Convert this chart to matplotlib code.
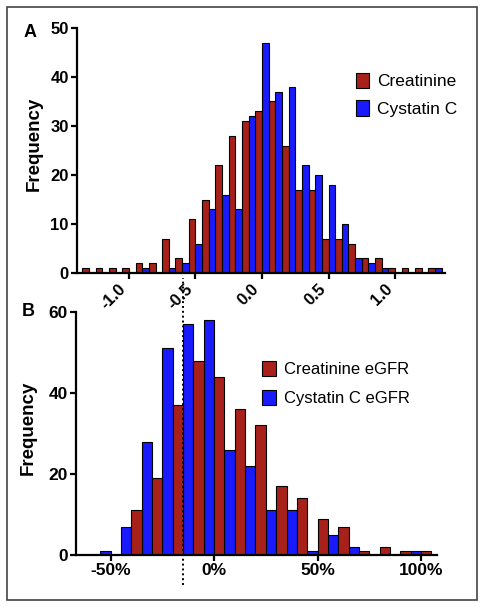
import matplotlib.pyplot as plt
from matplotlib.patches import Rectangle

plt.rcParams['font.family'] = ['Liberation Sans', 'DejaVu Sans']

# Panel A: difference bins (width 0.1)
bins_a = [-1.3, -1.2, -1.1, -1.0, -0.9, -0.8, -0.7, -0.6, -0.5, -0.4, -0.3, -0.2, -0.1,
          0.0, 0.1, 0.2, 0.3, 0.4, 0.5, 0.6, 0.7, 0.8, 0.9, 1.0, 1.1, 1.2, 1.3]
creat_a = [1, 1, 1, 1, 2, 2, 7, 3, 11, 15, 22, 28, 31,
           33, 35, 26, 17, 17, 7, 7, 6, 3, 3, 1, 1, 1, 1]
cyst_a = [0, 0, 0, 0, 1, 0, 1, 2, 6, 13, 16, 13, 32,
          47, 37, 38, 22, 20, 18, 10, 3, 2, 1, 0, 0, 0, 1]
xticks_a = [-1.0, -0.5, 0.0, 0.5, 1.0]
xlabels_a = ["-1.0", "-0.5", "0.0", "0.5", "1.0"]

# Panel B: percent difference bins (width 10%)
bins_b = [-50, -40, -30, -20, -10, 0, 10, 20, 30, 40, 50, 60, 70, 80, 90, 100]
creat_b = [0, 11, 19, 37, 48, 44, 36, 32, 17, 14, 9, 7, 1, 2, 1, 1]
cyst_b = [1, 7, 28, 51, 57, 58, 26, 22, 11, 11, 1, 5, 2, 0, 0, 1]
xticks_b = [-50, 0, 50, 100]
xlabels_b = ["-50%", "0%", "50%", "100%"]
cut_b = -15

red = '#A8201A'
blue = '#1A1AFF'

fig = plt.figure(figsize=(4.83, 6.07), dpi=100)
ax1 = fig.add_axes([0.1594, 0.5502, 0.7619, 0.4037])
ax2 = fig.add_axes([0.1573, 0.0857, 0.7475, 0.4003])

w = 0.05
ax1.bar([b - w / 2 for b in bins_a], creat_a, width=w, color=red, edgecolor='black',
        linewidth=0.8, label='Creatinine')
ax1.bar([b + w / 2 for b in bins_a], cyst_a, width=w, color=blue, edgecolor='black',
        linewidth=0.8, label='Cystatin C')
ax1.set_xlim(-1.39, 1.375)
ax1.set_ylim(0, 50)
ax1.set_yticks([0, 10, 20, 30, 40, 50])
ax1.set_xticks(xticks_a)
ax1.set_xticklabels(xlabels_a, rotation=45, ha='right', va='top')

w = 5
ax2.bar([b - w / 2 for b in bins_b], cyst_b, width=w, color=blue, edgecolor='black',
        linewidth=0.8, label='Cystatin C eGFR', zorder=2)
ax2.bar([b + w / 2 for b in bins_b], creat_b, width=w, color=red, edgecolor='black',
        linewidth=0.8, label='Creatinine eGFR', zorder=2)
ax2.set_xlim(-66.7, 107.7)
ax2.set_ylim(0, 60)
ax2.set_yticks([0, 20, 40, 60])
ax2.set_xticks(xticks_b)
ax2.set_xticklabels(xlabels_b)
# dotted cut-off line, runs up through panel A too
ax2.axvline(cut_b, ymin=-0.1235, ymax=1.14, color='black', lw=1.4,
            linestyle=(0, (1, 1.5)), clip_on=False, zorder=5)

for ax, fs in ((ax1, 12), (ax2, 12.5)):
    for s in ('top', 'right'):
        ax.spines[s].set_visible(False)
    for s in ('left', 'bottom'):
        ax.spines[s].set_linewidth(1.6)
    ax.tick_params(direction='out', length=4, width=1.6, labelsize=fs, pad=2)
    for t in ax.get_xticklabels() + ax.get_yticklabels():
        t.set_fontweight('bold')
    ax.set_ylabel('Frequency', fontsize=13.5, fontweight='bold')

ax1.yaxis.set_label_coords(-0.093, 0.527)
ax2.yaxis.set_label_coords(-0.109, 0.523)

h, l = ax1.get_legend_handles_labels()
ax1.legend(h, l, loc='upper left', bbox_to_anchor=(0.757, 0.818), frameon=False,
           fontsize=12.5, handlelength=0.8, handleheight=1.0, handletextpad=0.45,
           labelspacing=0.62, borderpad=0, borderaxespad=0)
h, l = ax2.get_legend_handles_labels()
ax2.legend(h[::-1], l[::-1], loc='upper left', bbox_to_anchor=(0.515, 0.80), frameon=False,
           fontsize=12, handlelength=0.85, handleheight=1.0, handletextpad=0.45,
           labelspacing=0.78, borderpad=0, borderaxespad=0)

fig.text(0.062, 0.947, 'A', fontsize=13, fontweight='bold', ha='center', va='center')
fig.text(0.059, 0.4876, 'B', fontsize=13, fontweight='bold', ha='center', va='center')

fig.patches.append(Rectangle((0.0145, 0.0115), 0.973, 0.977, transform=fig.transFigure,
                             fill=False, edgecolor='#444444', linewidth=1.2))

fig.savefig('out.png', dpi=100)
